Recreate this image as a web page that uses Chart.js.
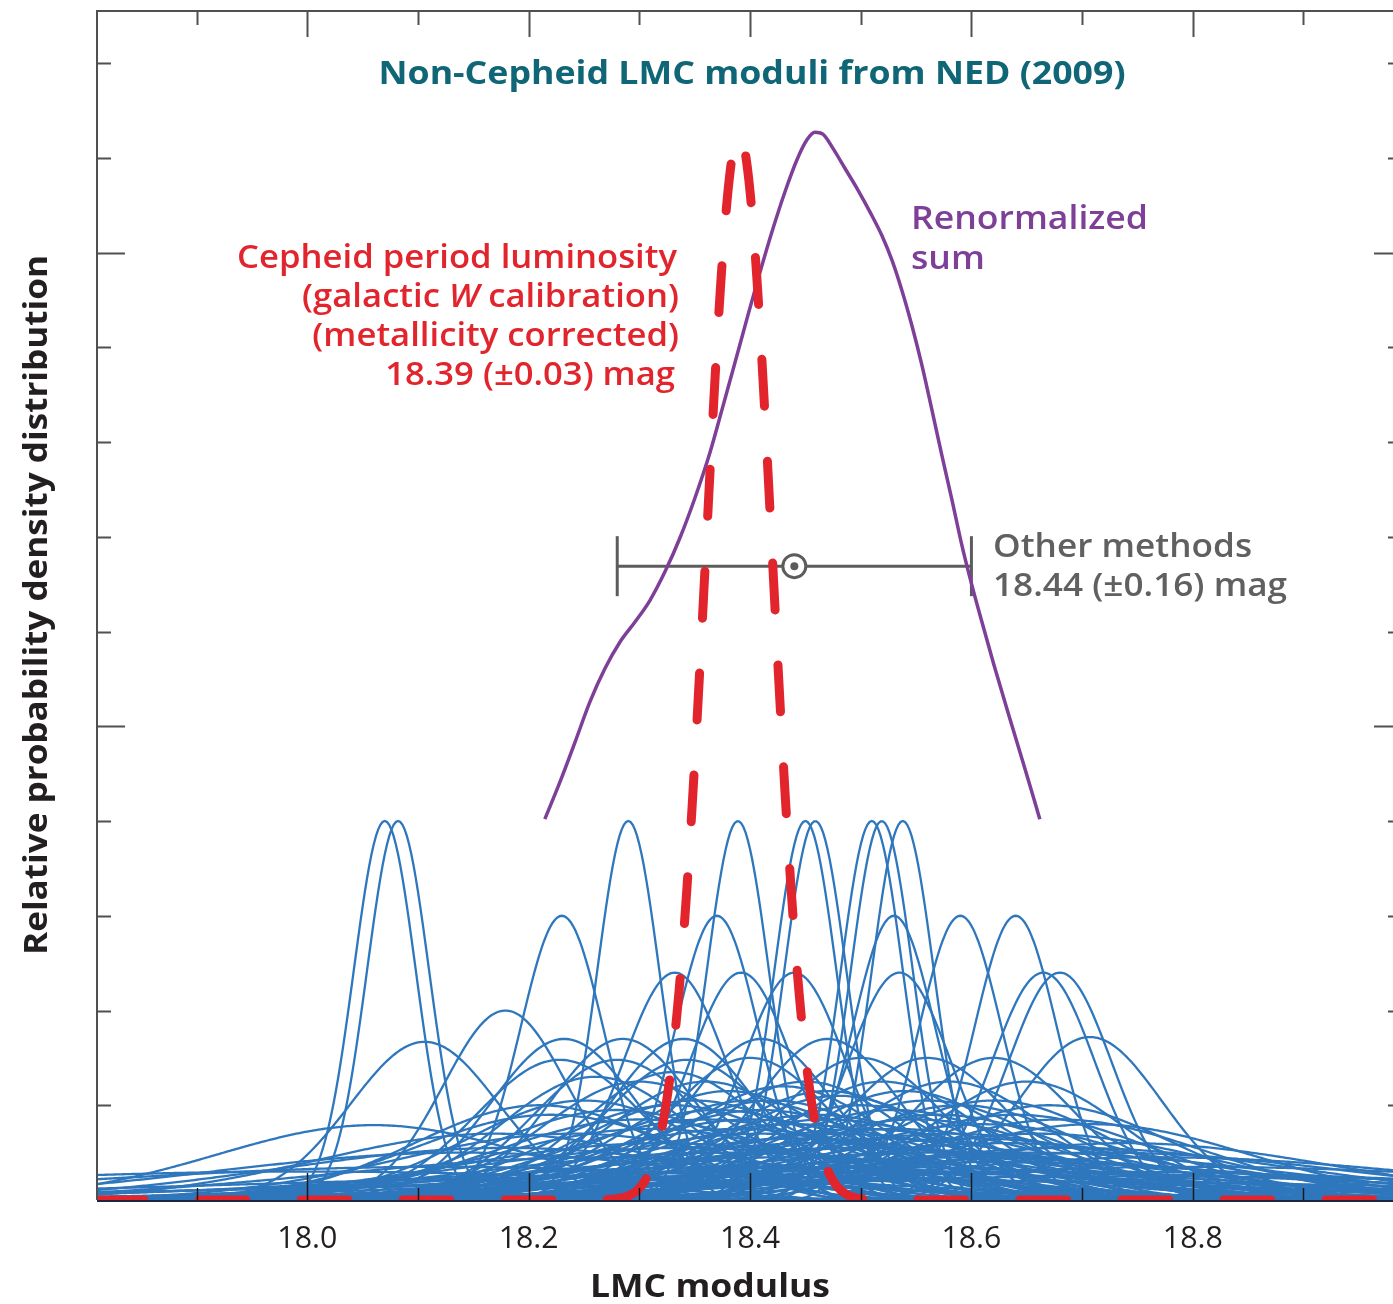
<!DOCTYPE html>
<html><head><meta charset="utf-8">
<script src="https://cdn.jsdelivr.net/npm/chart.js@4.4.1/dist/chart.umd.min.js"></script>
<style>html,body{margin:0;padding:0;background:#fff;overflow:hidden;width:1393px;height:1304px}canvas{display:block}</style>
</head><body>
<canvas id="c" width="1402" height="1304"></canvas>
<script>
// ---------- axis ranges & ticks ----------
const X_MIN = 17.81, X_MAX = 18.989;
const Y_MIN = 0, Y_MAX = 12.55;
const X_TICK_VALUES = [18.0, 18.2, 18.4, 18.6, 18.8];
const X_TICK_LABELS = ['18.0', '18.2', '18.4', '18.6', '18.8'];
const X_MINOR_TICKS = [17.9, 18.1, 18.3, 18.5, 18.7, 18.9];
const Y_TICKS = [1, 2, 3, 4, 5, 6, 7, 8, 9, 10, 11, 12];
const Y_MAJOR_TICKS = [5, 10];

// ---------- individual non-Cepheid moduli (blue curves): centre and peak height ----------
const BLUE_CENTERS = [
  18.070, 18.082, 18.290, 18.389, 18.450, 18.459, 18.510, 18.519, 18.538,
  18.230, 18.370, 18.530, 18.590, 18.640,
  18.332, 18.392, 18.440, 18.535, 18.665, 18.680,
  18.179, 18.106, 18.232, 18.285, 18.340, 18.410, 18.470, 18.707,
  18.228, 18.280, 18.343, 18.400, 18.500, 18.560, 18.620,
  18.12, 18.18, 18.22, 18.25, 18.27, 18.30, 18.30, 18.32, 18.33, 18.35,
  18.36, 18.36, 18.38, 18.40, 18.40, 18.41, 18.42, 18.43, 18.45, 18.45,
  18.46, 18.47, 18.48, 18.49, 18.50, 18.52, 18.52, 18.53, 18.55, 18.56,
  18.56, 18.58, 18.58, 18.60, 18.60, 18.62, 18.62, 18.65, 18.65, 18.68,
  18.70, 18.72, 18.75, 18.45, 18.35, 18.00, 18.06, 18.55,
  18.21, 18.24, 18.26, 18.28, 18.31, 18.33, 18.34, 18.37, 18.38, 18.39,
  18.41, 18.43, 18.44, 18.46, 18.47, 18.48, 18.50, 18.51, 18.53, 18.54,
  18.57, 18.59, 18.61, 18.63, 18.64, 18.66, 18.67, 18.69, 18.71, 18.74,
  18.77, 18.80, 18.17, 18.14, 18.40, 18.50, 18.60
];
const BLUE_PEAKS = [
  4.0, 4.0, 4.0, 4.0, 4.0, 4.0, 4.0, 4.0, 4.0,
  3.0, 3.0, 3.0, 3.0, 3.0,
  2.4, 2.4, 2.4, 2.4, 2.4, 2.4,
  2.0, 1.67, 1.7, 1.7, 1.7, 1.7, 1.7, 1.72,
  1.48, 1.48, 1.48, 1.5, 1.5, 1.5, 1.5,
  0.35, 0.55, 0.9, 1.05, 0.45, 1.25, 0.85, 0.6, 1.0, 1.05,
  0.85, 1.25, 0.5, 1.05, 0.85, 0.7, 1.05, 0.45, 1.25, 0.65,
  0.9, 0.85, 1.1, 0.55, 0.75, 1.25, 0.65, 0.95, 0.85, 1.05,
  0.5, 1.25, 0.7, 0.65, 0.3, 1.05, 0.4, 1.25, 0.5, 0.85,
  0.3, 0.5, 0.25, 0.3, 0.25, 0.3, 0.79, 0.2,
  1.0, 0.7, 1.3, 0.95, 0.75, 1.35, 0.55, 0.95, 1.15, 0.75,
  0.95, 1.2, 0.8, 0.6, 1.15, 0.7, 1.0, 0.55, 0.75, 1.15,
  0.9, 1.0, 0.8, 0.6, 0.9, 0.7, 1.0, 0.55, 0.8, 0.6,
  0.45, 0.35, 0.7, 0.5, 0.35, 0.35, 0.45
];
// width (sigma) of the tallest curves; all curves enclose the same area
const BLUE_SIGMA_AT_PEAK4 = 0.028;

// ---------- Cepheid PL result ----------
const CEPHEID_MEAN = 18.39, CEPHEID_SIGMA = 0.03, CEPHEID_PEAK = 11.25;

// ---------- renormalized sum (purple) ----------
const SUM_X = [18.2146, 18.2282, 18.2418, 18.2554, 18.2689, 18.2825, 18.2960, 18.3096, 18.3231, 18.3367,
  18.3502, 18.3638, 18.3746, 18.3864, 18.3981, 18.4089, 18.4198, 18.4315, 18.4424, 18.4514,
  18.4586, 18.4658, 18.4749, 18.4857, 18.4975, 18.5083, 18.5191, 18.5282, 18.5372, 18.5462,
  18.5553, 18.5643, 18.5733, 18.5824, 18.5914, 18.6004, 18.6095, 18.6203, 18.6329, 18.6474, 18.6618];
const SUM_Y = [4.02, 4.41, 4.83, 5.26, 5.61, 5.89, 6.10, 6.33, 6.63, 6.99,
  7.41, 7.89, 8.34, 8.84, 9.34, 9.79, 10.22, 10.64, 10.98, 11.19,
  11.27, 11.25, 11.10, 10.89, 10.66, 10.43, 10.18, 9.92, 9.60, 9.23,
  8.81, 8.34, 7.86, 7.39, 6.91, 6.49, 6.10, 5.65, 5.15, 4.59, 4.02];

// ---------- other methods ----------
const OTHER_MEAN = 18.44, OTHER_ERR = 0.16, OTHER_LEVEL = 6.69;

// ---------- colours ----------
const C_BLUE = '#2f77bd', C_RED = '#e2242c', C_PURPLE = '#7e3f98', C_GRAY = '#5c5c5c', C_TEAL = '#0f6676';

function gaussPoints(mu, sigma, peak, step) {
  const pts = [];
  const n = Math.round((X_MAX - X_MIN) / step);
  for (let i = 0; i <= n; i++) {
    const x = X_MIN + i * step;
    pts.push({ x, y: peak * Math.exp(-((x - mu) * (x - mu)) / (2 * sigma * sigma)) });
  }
  return pts;
}

const datasets = [];
datasets.push({
  data: gaussPoints(CEPHEID_MEAN, CEPHEID_SIGMA, CEPHEID_PEAK, 0.0008),
  borderColor: C_RED, borderWidth: 9, borderDash: [47, 55], borderCapStyle: 'round',
  pointRadius: 0, order: 0
});
datasets.push({
  data: SUM_X.map((x, i) => ({ x, y: SUM_Y[i] })),
  borderColor: C_PURPLE, borderWidth: 3.5, cubicInterpolationMode: 'monotone',
  pointRadius: 0, order: 1
});
datasets.push({
  data: [{ x: OTHER_MEAN, y: OTHER_LEVEL }],
  showLine: false, pointStyle: 'circle', pointRadius: 4, pointBackgroundColor: C_GRAY,
  pointBorderColor: C_GRAY, pointBorderWidth: 0, order: 1.5
});
datasets.push({
  data: [{ x: OTHER_MEAN, y: OTHER_LEVEL }],
  showLine: false, pointStyle: 'circle', pointRadius: 11.5, pointBackgroundColor: '#ffffff',
  pointBorderColor: C_GRAY, pointBorderWidth: 3, order: 1.6
});
datasets.push({
  data: [{ x: OTHER_MEAN - OTHER_ERR, y: OTHER_LEVEL }, { x: OTHER_MEAN + OTHER_ERR, y: OTHER_LEVEL }],
  borderColor: C_GRAY, borderWidth: 3, pointStyle: 'line', pointRotation: 90, pointRadius: 30,
  pointBorderColor: C_GRAY, pointBorderWidth: 3, order: 2
});
BLUE_CENTERS.forEach((mu, i) => {
  const peak = BLUE_PEAKS[i];
  const sigma = BLUE_SIGMA_AT_PEAK4 * 4 / peak;
  datasets.push({
    data: gaussPoints(mu, sigma, peak, 0.002),
    borderColor: C_BLUE, borderWidth: 2.3, pointRadius: 0, order: 10
  });
});

const FONT = (w, s, it) => `${it ? 'italic ' : ''}${w} ${s}px "Open Sans", "Noto Sans", sans-serif`;
function segWidth(ctx, segs, w, s) {
  let t = 0;
  for (const g of segs) { ctx.font = FONT(w, s, g.i); t += ctx.measureText(g.t).width; }
  return t;
}
function drawSegs(ctx, segs, x, y, align, w, s, sx, color) {
  const tw = segWidth(ctx, segs, w, s);
  ctx.save();
  ctx.translate(x, y); ctx.scale(sx, 1);
  let cx = align === 'right' ? -tw : (align === 'center' ? -tw / 2 : 0);
  ctx.fillStyle = color; ctx.textAlign = 'left'; ctx.textBaseline = 'alphabetic';
  for (const g of segs) { ctx.font = FONT(w, s, g.i); ctx.fillText(g.t, cx, 0); cx += ctx.measureText(g.t).width; }
  ctx.restore();
}
function fitScale(ctx, text, w, s, target) {
  ctx.font = FONT(w, s, false);
  return target / ctx.measureText(text).width;
}

const framePlugin = {
  id: 'frame',
  beforeDatasetsDraw(chart) {
    const { ctx, chartArea: a } = chart;
    ctx.save();
    ctx.strokeStyle = '#1d2444'; ctx.lineWidth = 2;
    ctx.beginPath(); ctx.moveTo(a.left, a.bottom + 1); ctx.lineTo(a.right, a.bottom + 1); ctx.stroke();
    ctx.restore();
  },
  afterDatasetsDraw(chart) {
    const { ctx, chartArea: a, scales: { x: xs, y: ys } } = chart;
    ctx.save();
    ctx.strokeStyle = '#505050'; ctx.lineWidth = 2;
    ctx.beginPath();
    ctx.moveTo(a.left, a.bottom); ctx.lineTo(a.left, a.top); ctx.lineTo(a.right, a.top);
    ctx.stroke();
    for (const v of Y_TICKS) {
      const py = Math.round(ys.getPixelForValue(v)) + 0.5;
      const len = Y_MAJOR_TICKS.includes(v) ? 28 : 14;
      ctx.beginPath();
      ctx.moveTo(a.left, py); ctx.lineTo(a.left + len, py);
      ctx.moveTo(a.right, py); ctx.lineTo(a.right - len, py);
      ctx.stroke();
    }
    const all = X_TICK_VALUES.map(v => [v, true]).concat(X_MINOR_TICKS.map(v => [v, false]));
    for (const [v, major] of all) {
      const px = Math.round(xs.getPixelForValue(v)) + 0.5;
      ctx.beginPath(); ctx.moveTo(px, a.top); ctx.lineTo(px, a.top + (major ? 26 : 14)); ctx.stroke();
    }
    ctx.strokeStyle = '#1a1a1a'; ctx.lineWidth = 1.5;
    for (const [v, major] of all) {
      const px = Math.round(xs.getPixelForValue(v)) + 0.5;
      ctx.beginPath(); ctx.moveTo(px, a.bottom); ctx.lineTo(px, a.bottom - (major ? 27 : 12)); ctx.stroke();
    }
    ctx.restore();
  },
  afterDraw(chart) {
    const { ctx, scales: { x: xs } } = chart;
    const tsx = fitScale(ctx, '18.0', 'normal', 31, 60);
    X_TICK_VALUES.forEach((v, i) => {
      drawSegs(ctx, [{ t: X_TICK_LABELS[i] }], xs.getPixelForValue(v), 1248, 'center', 'normal', 31, tsx, '#231f20');
    });
    const xt = 'LMC modulus';
    drawSegs(ctx, [{ t: xt }], 710, 1297, 'center', 'bold', 32, fitScale(ctx, xt, 'bold', 32, 240), '#231f20');
    const yt = 'Relative probability density distribution';
    ctx.save(); ctx.translate(47, 605); ctx.rotate(-Math.PI / 2);
    drawSegs(ctx, [{ t: yt }], 0, 0, 'center', 'bold', 32, fitScale(ctx, yt, 'bold', 32, 700), '#231f20');
    ctx.restore();
    const tt = 'Non-Cepheid LMC moduli from NED (2009)';
    drawSegs(ctx, [{ t: tt }], 752, 84, 'center', 'bold', 33, fitScale(ctx, tt, 'bold', 33, 747), C_TEAL);
    const r1 = 'Cepheid period luminosity';
    const rsx = fitScale(ctx, r1, 600, 32, 440);
    drawSegs(ctx, [{ t: r1 }], 677, 268, 'right', 600, 32, rsx, C_RED);
    drawSegs(ctx, [{ t: '(galactic ' }, { t: 'W', i: true }, { t: ' calibration)' }], 679, 307, 'right', 600, 32, rsx, C_RED);
    drawSegs(ctx, [{ t: '(metallicity corrected)' }], 679, 346, 'right', 600, 32, rsx, C_RED);
    drawSegs(ctx, [{ t: '18.39 (\u00b10.03) mag' }], 675, 385, 'right', 600, 32, rsx, C_RED);
    const p1 = 'Renormalized';
    const psx = fitScale(ctx, p1, 600, 32, 237);
    drawSegs(ctx, [{ t: p1 }], 911, 229, 'left', 600, 32, psx, C_PURPLE);
    drawSegs(ctx, [{ t: 'sum' }], 911, 269, 'left', 600, 32, psx, C_PURPLE);
    const g1 = 'Other methods';
    const gsx = fitScale(ctx, g1, 600, 32, 259);
    drawSegs(ctx, [{ t: g1 }], 993, 557, 'left', 600, 32, gsx, '#606060');
    drawSegs(ctx, [{ t: '18.44 (\u00b10.16) mag' }], 993, 596, 'left', 600, 32, gsx, '#606060');
  }
};

new Chart(document.getElementById('c'), {
  type: 'line',
  data: { datasets },
  options: {
    responsive: false, animation: false, devicePixelRatio: 1, events: [],
    parsing: false, normalized: true,
    layout: { autoPadding: false, padding: { left: 97, top: 11, right: 0, bottom: 104 } },
    elements: { line: { tension: 0 } },
    plugins: { legend: { display: false }, tooltip: { enabled: false } },
    scales: {
      x: { type: 'linear', min: X_MIN, max: X_MAX, display: false },
      y: { type: 'linear', min: Y_MIN, max: Y_MAX, display: false }
    }
  },
  plugins: [framePlugin]
});
</script>
</body></html>
